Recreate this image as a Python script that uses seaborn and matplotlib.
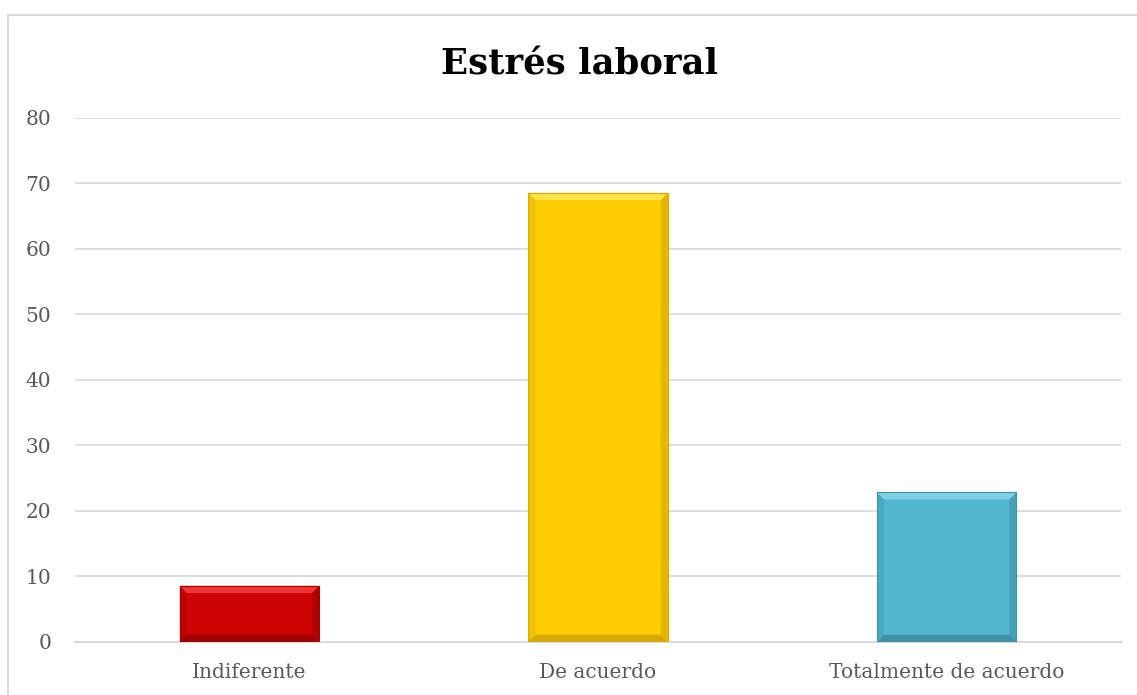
import matplotlib
matplotlib.use("Agg")
import pandas as pd
import seaborn as sns
from matplotlib import pyplot as plt
from matplotlib.patches import Polygon, Rectangle

categories = ["Indiferente", "De acuerdo", "Totalmente de acuerdo"]
values = [8.57, 68.57, 22.86]
bar_colors = ["#CC0404", "#FFCC00", "#52B8D0"]
light_colors = ["#EE3434", "#FFE34D", "#80D0E6"]
dark_colors = ["#A00000", "#D8AA00", "#3F92A6"]
yticks = [0, 10, 20, 30, 40, 50, 60, 70, 80]

sns.set_theme(style="white")
plt.rcParams["font.family"] = ["DejaVu Serif"]

df = pd.DataFrame({"categoria": categories, "valor": values})

fig = plt.figure(figsize=(11.37, 6.95), dpi=100)
ax = fig.add_axes([0.066, 0.0763, 0.92, 0.754])

sns.barplot(data=df, x="categoria", y="valor", hue="categoria",
            palette=bar_colors, width=0.4, legend=False, ax=ax,
            edgecolor="none", saturation=1)

# bevel effect on each bar
for patch, lc, dc in zip(ax.patches, light_colors, dark_colors):
    x0, y0 = patch.get_x(), patch.get_y()
    w, h = patch.get_width(), patch.get_height()
    bx, by = 0.02, 1.1
    x1, y1 = x0 + w, y0 + h
    ax.add_patch(Polygon([(x0, y1), (x1, y1), (x1 - bx, y1 - by), (x0 + bx, y1 - by)],
                         closed=True, color=lc, lw=0, zorder=3))
    ax.add_patch(Polygon([(x0, y0), (x1, y0), (x1 - bx, y0 + by), (x0 + bx, y0 + by)],
                         closed=True, color=dc, lw=0, zorder=3))
    ax.add_patch(Polygon([(x1, y0), (x1, y1), (x1 - bx, y1 - by), (x1 - bx, y0 + by)],
                         closed=True, color=dc, lw=0, zorder=3, alpha=0.6))
    ax.add_patch(Polygon([(x0, y0), (x0, y1), (x0 + bx, y1 - by), (x0 + bx, y0 + by)],
                         closed=True, color=dc, lw=0, zorder=3, alpha=0.35))
    ax.add_patch(Rectangle((x0, y0), w, h, fill=False, edgecolor=dc, lw=0.8, zorder=4))

ax.set_ylim(0, 80)
ax.set_xlim(-0.5, 2.5)
ax.set_yticks(yticks)
ax.yaxis.grid(True, color="#D9D9D9", linewidth=1.2)
ax.set_axisbelow(True)
for side in ["top", "right", "left"]:
    ax.spines[side].set_visible(False)
ax.spines["bottom"].set_color("#D9D9D9")
ax.spines["bottom"].set_linewidth(1.5)
ax.set_xlabel("")
ax.set_ylabel("")
ax.tick_params(axis="y", length=0, pad=17, labelsize=14.5, labelcolor="#595959")
ax.tick_params(axis="x", length=0, pad=15, labelsize=14.5, labelcolor="#595959")

fig.text(0.51, 0.907, "Estrés laboral", ha="center", va="center",
         fontsize=25.5, fontweight="bold", color="black")

# chart border
fig.patches.append(Rectangle((8 / 1137, -0.05), 1.1, 0.978 + 0.05,
                             transform=fig.transFigure, fill=False,
                             edgecolor="#D9D9D9", linewidth=1.5))

fig.savefig("out.png", dpi=100)
